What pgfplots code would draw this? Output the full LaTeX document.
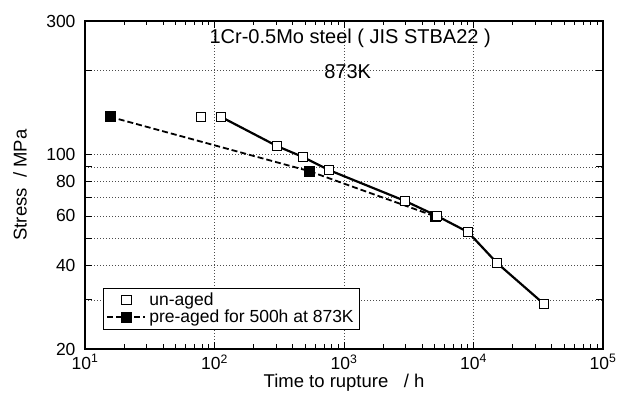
\documentclass[border=0pt]{standalone}
\usepackage{pgfplots}
\pgfplotsset{compat=1.18}
\usepackage{fontspec}
\setmainfont{Liberation Sans}
\begin{document}
\begin{tikzpicture}
\begin{axis}[
  at={(0,0)}, anchor=south west,
  scale only axis, width=518pt, height=328pt,
  xmode=log, ymode=log,
  xmin=10, xmax=100000, ymin=20, ymax=300,
  xtick={10,100,1000,10000,100000},
  xticklabels={10\textsuperscript{1},10\textsuperscript{2},10\textsuperscript{3},10\textsuperscript{4},10\textsuperscript{5}},
  minor xtick={20,30,40,50,60,70,80,90,200,300,400,500,600,700,800,900,2000,3000,4000,5000,6000,7000,8000,9000,20000,30000,40000,50000,60000,70000,80000,90000},
  ytick={20,30,40,50,60,70,80,90,100,200,300},
  yticklabels={20,{},40,{},60,{},80,{},100,{},300},
  grid=major,
  major grid style={black!70, line width=0.6pt, dash pattern=on 0.8pt off 2.2pt},
  axis line style={line width=1.2pt},
  tick style={black, line width=0.8pt},
  major tick length=7pt, minor tick length=4.5pt,
  tick label style={font=\fontsize{17.5}{19}\selectfont},
  yticklabel style={xshift=-6pt},
  xticklabel style={yshift=-2pt},
  /pgf/number format/assume math mode=true,
  xlabel={Time to rupture \ \ / h}, ylabel={Stress \ / MPa},
  every axis x label/.style={at={(axis description cs:0.5,-0.1037)}, anchor=center, font=\fontsize{18.5}{20}\selectfont},
  every axis y label/.style={at={(axis description cs:-0.1255,0.5)}, anchor=center, rotate=90, font=\fontsize{18.5}{20}\selectfont},
  legend cell align=left,
  legend style={at={(0.035,0.058)}, anchor=south west, font=\fontsize{17.5}{18}\selectfont, draw=black, line width=0.9pt, inner xsep=3pt, inner ysep=5pt, row sep=2pt,
    nodes={inner ysep=0.3pt, inner xsep=3pt}},
  legend image code/.code={\draw[mark repeat=2, mark phase=2, #1] plot coordinates {(0pt,0pt) (19pt,0pt) (38pt,0pt)};},
]
\addplot[line width=1.8pt, dash pattern=on 6pt off 3pt, mark=square*, mark size=4.6pt, mark options={solid, fill=black, draw=black}, forget plot] coordinates {
(15.6,136) (537,86.9) (5050,59.8)};
\addplot[line width=2.2pt, forget plot] coordinates {
(112,136) (304,106.8) (482,97.6) (766,87.6) (2960,67.9) (5220,60.0) (9080,52.5) (15170,40.7) (35000,29.0)};
\addplot[only marks, mark=square*, mark size=4.6pt, mark options={fill=white, draw=black, line width=1pt}] coordinates {
(78.7,136) (112,136) (304,106.8) (482,97.6) (766,87.6) (2960,67.9) (5220,60.0) (9080,52.5) (15170,40.7) (35000,29.0)};
\addlegendentry{un-aged}
\addlegendimage{line width=1.8pt, dash pattern=on 6pt off 3pt, mark=square*, mark size=4.6pt, mark options={solid, fill=black, draw=black}}
\addlegendentry{pre-aged for 500h at 873K}
\node[font=\fontsize{20}{22}\selectfont] at (rel axis cs:0.512,0.948) {1Cr-0.5Mo steel ( JIS STBA22 )};
\node[font=\fontsize{20}{22}\selectfont] at (rel axis cs:0.507,0.845) {873K};
\end{axis}
\pgfresetboundingbox
\path[use as bounding box] (-85pt,-52pt) rectangle (538pt,349pt);
\end{tikzpicture}
\end{document}
